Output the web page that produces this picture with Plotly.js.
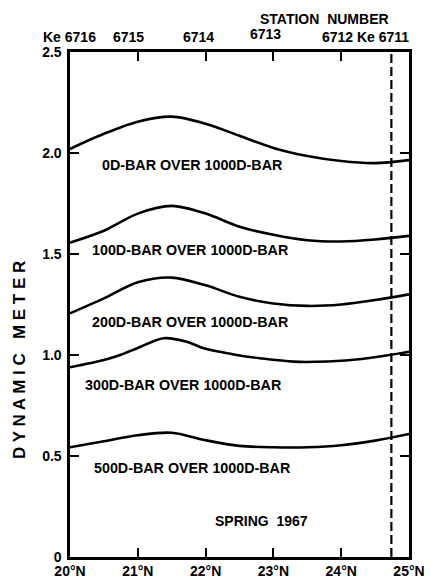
<!DOCTYPE html>
<html>
<head>
<meta charset="utf-8">
<script src="https://cdn.plot.ly/plotly-3.0.1.min.js"></script>
<style>html,body{margin:0;padding:0;background:#fff;}#chart{width:431px;height:583px;}</style>
</head>
<body>
<div id="chart"></div>
<script>
// latitude (°N) of each read point and dynamic meter values
var lat0   = [20.0, 20.5, 21.0, 21.5, 22.0, 22.5, 23.0, 23.5, 24.0, 24.5, 25.0];
var dyn0   = [2.02, 2.095, 2.155, 2.18, 2.145, 2.085, 2.025, 1.985, 1.96, 1.95, 1.965];
var lat100 = [20.0, 20.5, 21.0, 21.5, 22.0, 22.5, 23.0, 23.5, 24.0, 24.5, 25.0];
var dyn100 = [1.556, 1.615, 1.70, 1.738, 1.70, 1.635, 1.595, 1.568, 1.562, 1.572, 1.59];
var lat200 = [20.0, 20.5, 21.0, 21.5, 22.0, 22.5, 23.0, 23.5, 24.0, 24.5, 25.0];
var dyn200 = [1.206, 1.28, 1.36, 1.383, 1.345, 1.288, 1.255, 1.243, 1.25, 1.272, 1.30];
var lat300 = [20.0, 20.5, 20.74, 21.0, 21.38, 21.72, 21.97, 22.21, 22.46, 22.8, 23.3, 23.8, 24.3, 25.0];
var dyn300 = [0.939, 0.975, 1.0, 1.035, 1.083, 1.066, 1.033, 1.016, 1.0, 0.984, 0.967, 0.968, 0.98, 1.016];
var lat500 = [20.0, 20.5, 21.0, 21.5, 22.0, 22.5, 23.0, 23.5, 24.0, 24.5, 25.0];
var dyn500 = [0.543, 0.573, 0.603, 0.615, 0.578, 0.55, 0.543, 0.543, 0.553, 0.576, 0.609];

var curveLabels = ["0D-BAR OVER 1000D-BAR", "100D-BAR OVER 1000D-BAR", "200D-BAR OVER 1000D-BAR",
                   "300D-BAR OVER 1000D-BAR", "500D-BAR OVER 1000D-BAR"];
var labelLat = [21.80, 21.77, 21.77, 21.67, 21.80];
var labelDyn = [1.94, 1.52, 1.163, 0.851, 0.44];

var stationLat = [20.0, 21.0, 22.0, 23.0, 24.0, 24.74];
var stationNames = ["Ke 6716", "6715", "6714", "6713", "6712", "Ke 6711"];
var lastStationLat = 24.74;

var xTickVals = [20, 21, 22, 23, 24, 25];
var xTickText = ["20°N", "21°N", "22°N", "23°N", "24°N", "25°N"];
var yTickVals = [0, 0.5, 1.0, 1.5, 2.0, 2.5];
var yTickText = ["0", "0.5", "1.0", "1.5", "2.0", "2.5"];

var FONT = "Liberation Sans, Arial, sans-serif";
var lineStyle = {color: "#000", width: 2.6, shape: "spline", smoothing: 0.9};

var series = [[lat0, dyn0], [lat100, dyn100], [lat200, dyn200], [lat300, dyn300], [lat500, dyn500]];
var traces = series.map(function (s) {
  return {x: s[0], y: s[1], mode: "lines", line: lineStyle, hoverinfo: "skip", showlegend: false};
});
traces.push({
  x: [lastStationLat, lastStationLat], y: [0, 2.5], mode: "lines",
  line: {color: "#000", width: 2.2, dash: "9px,4px"}, showlegend: false, hoverinfo: "skip"
});

var annotations = [];
curveLabels.forEach(function (t, i) {
  annotations.push({x: labelLat[i], y: labelDyn[i], xref: "x", yref: "y", text: t, showarrow: false,
    font: {family: FONT, size: 14.3, color: "#000", weight: "bold"}});
});
annotations.push({x: 22.82, y: 0.178, xref: "x", yref: "y", text: "SPRING  1967", showarrow: false,
  font: {family: FONT, size: 14, color: "#000", weight: "bold"}});
var stShift = [-1, -9, -7, -8, -4, -8];
var stDy = [0, 0, 0, 3, 0, 0];
stationNames.forEach(function (t, i) {
  annotations.push({x: stationLat[i], y: 1, xref: "x", yref: "paper", yanchor: "bottom",
    yshift: 5 + stDy[i], xshift: stShift[i], text: t, showarrow: false,
    font: {family: FONT, size: 14, color: "#000", weight: "bold"}});
});
annotations.push({x: 23.75, y: 1, xref: "x", yref: "paper", yanchor: "bottom", yshift: 23,
  text: "STATION  NUMBER", showarrow: false, font: {family: FONT, size: 14, color: "#000", weight: "bold"}});
annotations.push({x: 0, y: 0.39, xref: "paper", yref: "paper", xanchor: "center", yanchor: "middle",
  xshift: -51, textangle: -90,
  text: "D Y N A M I C   M E T E R", showarrow: false,
  font: {family: FONT, size: 17, color: "#000", weight: "bold"}});

var layout = {
  width: 431, height: 583,
  margin: {l: 70, r: 22, t: 52, b: 26, pad: 0},
  paper_bgcolor: "#fff", plot_bgcolor: "#fff",
  showlegend: false,
  xaxis: {
    range: [20, 25], tickvals: xTickVals, ticktext: xTickText,
    ticks: "inside", ticklen: 9, tickwidth: 2, tickcolor: "#000",
    showline: true, linewidth: 2.6, linecolor: "#000", mirror: "ticks",
    showgrid: false, zeroline: false,
    tickfont: {family: FONT, size: 14, color: "#000", weight: "bold"}
  },
  yaxis: {
    range: [0, 2.5], tickvals: yTickVals, ticktext: yTickText,
    ticks: "inside", ticklen: 9, tickwidth: 2, tickcolor: "#000",
    showline: true, linewidth: 2.6, linecolor: "#000", mirror: "ticks",
    showgrid: false, zeroline: false, ticklabelstandoff: 3,
    tickfont: {family: FONT, size: 14, color: "#000", weight: "bold"}
  },
  annotations: annotations
};

Plotly.newPlot("chart", traces, layout, {staticPlot: true, displayModeBar: false});
</script>
</body>
</html>
